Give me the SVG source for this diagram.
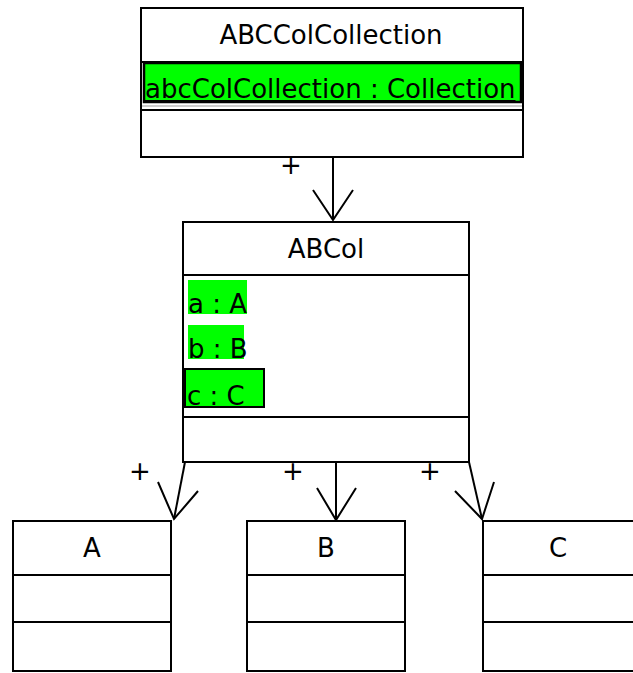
<svg xmlns="http://www.w3.org/2000/svg" width="633" height="673" viewBox="0 0 633 673">
<style>
.box{fill:#fff;stroke:#000;stroke-width:2}
.sep{stroke:#000;stroke-width:2}
.t{font-family:"DejaVu Sans",sans-serif;font-size:26px;fill:#000}
.c{text-anchor:middle}
.sel{fill:#00ff00}
.conn{stroke:#000;stroke-width:2;fill:none}
</style>
<rect width="633" height="673" fill="#fff"/>
<g id="ABCColCollection">
<rect class="box" x="141" y="8" width="382" height="149"/>
<line class="sep" x1="141" y1="62" x2="523" y2="62"/>
<rect class="sel" x="144" y="63" width="377" height="39" stroke="#000" stroke-width="2.5"/>
<line x1="142" y1="106" x2="522" y2="106" stroke="#999" stroke-width="1"/>
<line class="sep" x1="141" y1="110" x2="523" y2="110"/>
<text class="t c" x="331" y="44">ABCColCollection</text>
<text class="t" x="145" y="98" text-decoration="underline">abcColCollection : Collection</text>
</g>
<g id="ABCol">
<rect class="box" x="183" y="222" width="286" height="240"/>
<line class="sep" x1="183" y1="275" x2="469" y2="275"/>
<line class="sep" x1="183" y1="417" x2="469" y2="417"/>
<rect class="sel" x="188" y="280" width="59" height="34"/>
<rect class="sel" x="188" y="325" width="56" height="34"/>
<rect class="sel" x="185" y="369" width="79" height="38" stroke="#000" stroke-width="2"/>
<text class="t c" x="326" y="258">ABCol</text>
<text class="t" x="188" y="313">a : A</text>
<text class="t" x="188" y="358">b : B</text>
<text class="t" x="187" y="405">c : C</text>
</g>
<g id="A">
<rect class="box" x="13" y="521" width="158" height="150"/>
<line class="sep" x1="13" y1="575" x2="171" y2="575"/>
<line class="sep" x1="13" y1="622" x2="171" y2="622"/>
<text class="t c" x="92" y="557">A</text>
</g>
<g id="B">
<rect class="box" x="247" y="521" width="158" height="150"/>
<line class="sep" x1="247" y1="575" x2="405" y2="575"/>
<line class="sep" x1="247" y1="622" x2="405" y2="622"/>
<text class="t c" x="326" y="557">B</text>
</g>
<g id="C">
<rect class="box" x="483" y="521" width="160" height="150"/>
<line class="sep" x1="483" y1="575" x2="643" y2="575"/>
<line class="sep" x1="483" y1="622" x2="643" y2="622"/>
<text class="t c" x="558" y="557">C</text>
</g>
<g id="connectors">
<line class="conn" x1="333" y1="157" x2="333" y2="220"/>
<polyline class="conn" points="313,190 333,220 353,190"/>
<text class="t c" x="291" y="174">+</text>
<line class="conn" x1="185" y1="462" x2="174" y2="519"/>
<polyline class="conn" points="158,482 174,519 198,491"/>
<text class="t c" x="140" y="480">+</text>
<line class="conn" x1="336" y1="462" x2="336" y2="520"/>
<polyline class="conn" points="317,488 336,520 356,488"/>
<text class="t c" x="293" y="480">+</text>
<line class="conn" x1="469" y1="462" x2="482" y2="519"/>
<polyline class="conn" points="455,491 482,519 494,482"/>
<text class="t c" x="430" y="480">+</text>
</g>
</svg>
